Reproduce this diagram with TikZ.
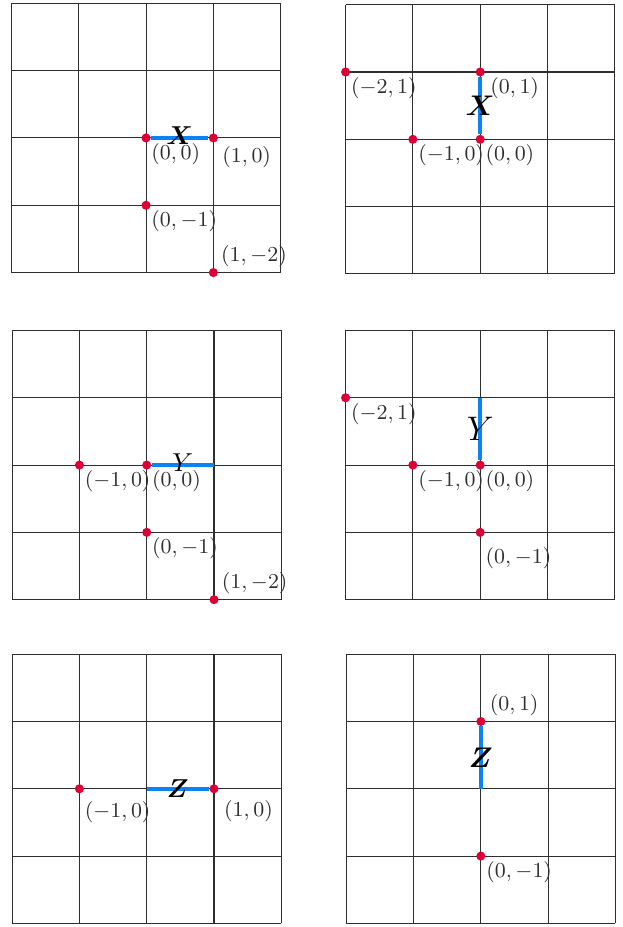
\documentclass[tikz,border=0pt]{standalone}
\usepackage{amsmath}
\usepackage{bm}
\usetikzlibrary{positioning}
\definecolor{segblue}{HTML}{0A84F5}
\definecolor{dotred}{HTML}{DC0035}
\definecolor{gridink}{HTML}{2E2E2E}
\definecolor{labelink}{HTML}{303030}

\begin{document}
\begin{tikzpicture}[
  gridline/.style={draw=gridink, line width=0.45pt},
  seg/.style={segblue, line width=1.7pt},
  dot/.style={circle, fill=dotred, inner sep=0pt, minimum size=1.35mm},
  coordlabel/.style={font=\fontsize{8.8}{10}\selectfont, text=labelink, inner sep=0.6pt},
  oplabel/.style={font=\fontsize{11}{13}\selectfont, text=black, inner sep=0pt}
]
\useasboundingbox (0,0) rectangle (9.242,-13.774);

% ---- top row: X ----
\begin{scope}[shift={(2.17,-2.05)}]
  \draw[gridline] (-2,-2) grid (2,2);
  \node[dot] (a00) at (0,0) {};
  \node[dot] (a10) at (1,0) {};
  \node[dot] (a0m1) at (0,-1) {};
  \node[dot] (a1m2) at (1,-2) {};
  \draw[seg] (a00) -- (a10) node[oplabel, midway, yshift=1pt] {$\bm{X}$};
  \node[coordlabel, below right=0pt of a00] {$(0,0)$};
  \node[coordlabel, below right=1.5pt and 1.5pt of a10] {$(1,0)$};
  \node[coordlabel, below right=0pt of a0m1] {$(0,-1)$};
  \node[coordlabel, above right=0pt and 1pt of a1m2] {$(1,-2)$};
\end{scope}

\begin{scope}[shift={(7.135,-2.07)}]
  \draw[gridline] (-2,-2) grid (2,2);
  \node[dot] (b00) at (0,0) {};
  \node[dot] (b01) at (0,1) {};
  \node[dot] (bm10) at (-1,0) {};
  \node[dot] (bm21) at (-2,1) {};
  \draw[seg] (b00) -- (b01) node[oplabel, midway, font=\fontsize{12}{14}\selectfont] {$\bm{X}$};
  \node[coordlabel, below right=0pt of bm21] {$(-2,1)$};
  \node[coordlabel, below right=0pt and 2pt of b01] {$(0,1)$};
  \node[coordlabel, below right=0pt of bm10] {$(-1,0)$};
  \node[coordlabel, below right=0pt of b00] {$(0,0)$};
\end{scope}

% ---- middle row: Y ----
\begin{scope}[shift={(2.18,-6.91)}]
  \draw[gridline] (-2,-2) grid (2,2);
  \coordinate (c10) at (1,0);
  \node[dot] (c00) at (0,0) {};
  \node[dot] (cm10) at (-1,0) {};
  \node[dot] (c0m1) at (0,-1) {};
  \node[dot] (c1m2) at (1,-2) {};
  \draw[seg] (c00) -- (c10) node[oplabel, midway, yshift=1pt] {$Y$};
  \node[coordlabel, below right=0pt of cm10] {$(-1,0)$};
  \node[coordlabel, below right=0pt of c00] {$(0,0)$};
  \node[coordlabel, below right=0pt of c0m1] {$(0,-1)$};
  \node[coordlabel, above right=0pt and 1pt of c1m2] {$(1,-2)$};
\end{scope}

\begin{scope}[shift={(7.135,-6.91)}]
  \draw[gridline] (-2,-2) grid (2,2);
  \coordinate (d01) at (0,1);
  \node[dot] (d00) at (0,0) {};
  \node[dot] (dm10) at (-1,0) {};
  \node[dot] (dm21) at (-2,1) {};
  \node[dot] (d0m1) at (0,-1) {};
  \draw[seg] (d00) -- (d01) node[oplabel, midway, font=\fontsize{13.5}{15}\selectfont] {$Y$};
  \node[coordlabel, below right=0pt of dm21] {$(-2,1)$};
  \node[coordlabel, below right=0pt of dm10] {$(-1,0)$};
  \node[coordlabel, below right=0pt of d00] {$(0,0)$};
  \node[coordlabel, below right=4pt and 0pt of d0m1] {$(0,-1)$};
\end{scope}

% ---- bottom row: Z ----
\begin{scope}[shift={(2.18,-11.72)}]
  \draw[gridline] (-2,-2) grid (2,2);
  \coordinate (e00) at (0,0);
  \node[dot] (e10) at (1,0) {};
  \node[dot] (em10) at (-1,0) {};
  \draw[seg] (e00) -- (e10) node[oplabel, midway] {$\bm{Z}$};
  \node[coordlabel, below right=3pt and 0pt of em10] {$(-1,0)$};
  \node[coordlabel, below right=2.5pt and 2pt of e10] {$(1,0)$};
\end{scope}

\begin{scope}[shift={(7.145,-11.72)}]
  \draw[gridline] (-2,-2) grid (2,2);
  \coordinate (f00) at (0,0);
  \node[dot] (f01) at (0,1) {};
  \node[dot] (f0m1) at (0,-1) {};
  \draw[seg] (f00) -- (f01) node[oplabel, midway, font=\fontsize{12}{14}\selectfont] {$\bm{Z}$};
  \node[coordlabel, above right=0pt and 1.5pt of f01] {$(0,1)$};
  \node[coordlabel, below right=0pt of f0m1] {$(0,-1)$};
\end{scope}
\end{tikzpicture}
\end{document}
